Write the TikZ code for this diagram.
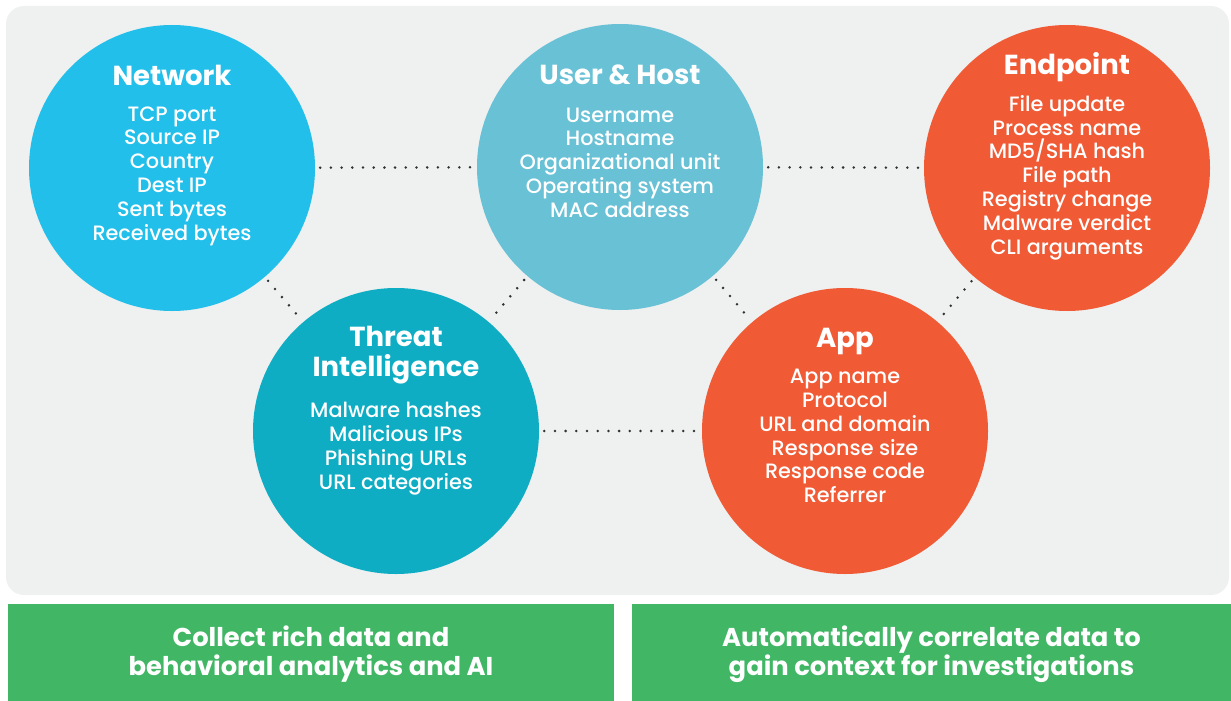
\documentclass[tikz,border=0pt]{standalone}
\usepackage{fontspec}
\setmainfont{Poppins}
\newfontfamily\medfont{Poppins Medium}
\definecolor{bggray}{HTML}{EFF0F0}
\definecolor{netblue}{HTML}{22BFEA}
\definecolor{userblue}{HTML}{69C1D6}
\definecolor{threatblue}{HTML}{0FADC4}
\definecolor{appred}{HTML}{F05A35}
\definecolor{bannergreen}{HTML}{41B766}
\definecolor{dotgray}{HTML}{2E3436}
\begin{document}
\begin{tikzpicture}[x=1pt,y=-1pt,
  bubble/.style={circle, minimum size=286pt, inner sep=0pt, draw=none},
  dotline/.style={draw=dotgray, line width=2.8pt, line cap=round, dash pattern=on 0pt off 10.7pt, shorten <=5pt, shorten >=5pt},
  headtext/.style={text=white, font=\fontsize{27.5}{30}\selectfont\bfseries, align=center, inner sep=0pt},
  itemtext/.style={text=white, font=\medfont\fontsize{20.8}{23.8}\selectfont, align=center, inner sep=0pt},
  banner/.style={fill=bannergreen, minimum height=97pt, inner sep=0pt},
  bannertext/.style={text=white, font=\fontsize{25.8}{29}\selectfont\bfseries, align=center, inner sep=0pt}]
\useasboundingbox (0,0) rectangle (1231,701);
\fill[bggray, rounded corners=18pt] (6,6) rectangle (1229,595);

\node[bubble, fill=netblue] (net) at (172,168) {};
\node[bubble, fill=userblue] (user) at (620,167) {};
\node[bubble, fill=appred] (endp) at (1067,168) {};
\node[bubble, fill=threatblue] (threat) at (396,431) {};
\node[bubble, fill=appred] (app) at (845,431) {};

\draw[dotline] (net) -- (user);
\draw[dotline] (user) -- (endp);
\draw[dotline] (threat) -- (app);
\draw[dotline] (net) -- (threat);
\draw[dotline] (user) -- (threat);
\draw[dotline] (user) -- (app);
\draw[dotline] (endp) -- (app);

\node[headtext] (neth) at (172,75) {Network};
\node[itemtext] (netl) at (172,176) {TCP port\\Source IP\\Country\\Dest IP\\Sent bytes\\Received bytes};

\node[headtext] (userh) at (620,75) {User \& Host};
\node[itemtext] (userl) at (620,162.5) {Username\\Hostname\\Organizational unit\\Operating system\\MAC address};

\node[headtext] (endph) at (1067,67) {Endpoint};
\node[itemtext] (endpl) at (1067,177.5) {File update\\Process name\\MD5/SHA hash\\File path\\Registry change\\Malware verdict\\CLI arguments};

\node[headtext] (threath) at (396,355.5) {Threat\\Intelligence};
\node[itemtext] (threatl) at (396,448.5) {Malware hashes\\Malicious IPs\\Phishing URLs\\URL categories};

\node[headtext] (apph) at (845,341.5) {App};
\node[itemtext] (appl) at (845,436) {App name\\Protocol\\URL and domain\\Response size\\Response code\\Referrer};

\node[banner, minimum width=606pt] (leftb) at (311,652.5) {};
\node[banner, minimum width=599pt] (rightb) at (931.5,652.5) {};
\node[bannertext] (leftt) at (311,654) {Collect rich data and\\behavioral analytics and AI};
\node[bannertext] (rightt) at (931.5,654) {Automatically correlate data to\\gain context for investigations};
\end{tikzpicture}
\end{document}
